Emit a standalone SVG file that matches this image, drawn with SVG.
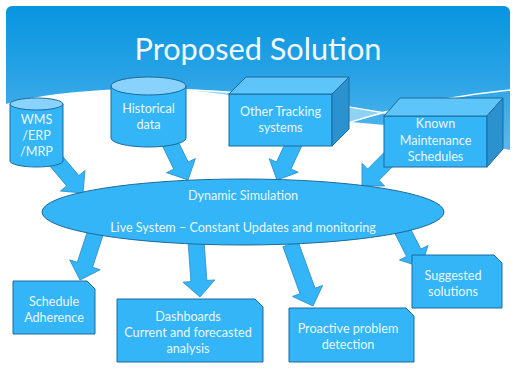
<svg xmlns="http://www.w3.org/2000/svg" width="516" height="377" viewBox="0 0 516 377">
<defs>
<linearGradient id="sky" x1="0" y1="0" x2="0" y2="1">
<stop offset="0" stop-color="#0795df"/>
<stop offset="0.45" stop-color="#2aa3e6"/>
<stop offset="1" stop-color="#62c0f2"/>
</linearGradient>
<style>
.n{fill:#33b5f8;stroke:#1d6a9a;stroke-width:1}
.cap{fill:#88d2fb;stroke:#1d6a9a;stroke-width:1}
.top{fill:#5ec5fb;stroke:#1d6a9a;stroke-width:1}
.side{fill:#2b92cf;stroke:#1d6a9a;stroke-width:1}
.t{font-family:Lato,"Open Sans","DejaVu Sans",sans-serif;font-size:12.6px;fill:#eaf7ff;text-anchor:middle}
.a{fill:#33b5f8;stroke:#2a8fcc;stroke-width:0.8}
</style>
</defs>
<rect x="0" y="0" width="516" height="377" fill="#ffffff"/>
<rect x="6" y="6" width="504" height="160" rx="6" fill="url(#sky)"/>
<path d="M170,89 C250,90 315,100 385,113 L351,122 C300,110 240,92 170,89 Z" fill="#8fd0f5"/>
<path d="M6,104 C50,92 110,88 170,89 C240,92 300,110 351,122 L385,125 L510,150 L510,377 L6,377 Z" fill="#ffffff"/>
<path d="M120,89 C220,87 310,100 385,113 L430,121" fill="none" stroke="#ffffff" stroke-width="1.5"/>
<path d="M330,128 C345,124 360,119 385,112 C420,103 460,95 510,90" fill="none" stroke="#ffffff" stroke-width="1.5"/>
<text x="258" y="60" font-family="Lato,'Open Sans',sans-serif" font-size="30" fill="#f2f9ff" text-anchor="middle" textLength="247" lengthAdjust="spacingAndGlyphs">Proposed Solution</text>

<g id="connectors">
<path class="a" transform="translate(83,193) rotate(50)" d="M0,0 L-16,-16 L-16,-8 L-55,-8 L-55,8 L-16,8 L-16,16 Z"/>
<path class="a" transform="translate(188,180) rotate(64)" d="M0,0 L-16,-16 L-16,-8 L-45,-8 L-45,8 L-16,8 L-16,16 Z"/>
<path class="a" transform="translate(277,180) rotate(115)" d="M0,0 L-16,-16 L-16,-8 L-42,-8 L-42,8 L-16,8 L-16,16 Z"/>
<path class="a" transform="translate(362,186) rotate(135)" d="M0,0 L-16,-16 L-16,-8 L-42,-8 L-42,8 L-16,8 L-16,16 Z"/>
<path class="a" transform="translate(80,280) rotate(108)" d="M0,0 L-16,-16 L-16,-8 L-52,-8 L-52,8 L-16,8 L-16,16 Z"/>
<path class="a" transform="translate(200,297) rotate(86)" d="M0,0 L-16,-16 L-16,-8 L-55,-8 L-55,8 L-16,8 L-16,16 Z"/>
<path class="a" transform="translate(313,306) rotate(70)" d="M0,0 L-16,-16 L-16,-8 L-66,-8 L-66,8 L-16,8 L-16,16 Z"/>
<path class="a" transform="translate(421,267) rotate(63)" d="M0,0 L-16,-16 L-16,-8 L-44,-8 L-44,8 L-16,8 L-16,16 Z"/>
</g>

<g id="wms">
<path class="n" d="M10,104 V161 A26.5,6 0 0 0 63,161 V104 Z"/>
<ellipse class="cap" cx="36.5" cy="104" rx="26.5" ry="6"/>
<text class="t" x="36.5" y="124">WMS</text>
<text class="t" x="36.5" y="140">/ERP</text>
<text class="t" x="36.5" y="156">/MRP</text>
</g>

<g id="historical">
<path class="n" d="M111,86 V138 A37.5,9 0 0 0 186,138 V86 Z"/>
<ellipse class="cap" cx="148.5" cy="86" rx="37.5" ry="9"/>
<text class="t" x="148.5" y="113">Historical</text>
<text class="t" x="148.5" y="129">data</text>
</g>

<g id="other">
<rect class="n" x="229" y="94" width="103" height="52"/>
<path class="top" d="M229,94 L246,77 L349,77 L332,94 Z"/>
<path class="side" d="M332,94 L349,77 L349,129 L332,146 Z"/>
<text class="t" x="280.5" y="116">Other Tracking</text>
<text class="t" x="280.5" y="132">systems</text>
</g>

<g id="known">
<rect class="n" x="384" y="116" width="103" height="51"/>
<path class="top" d="M384,116 L400,98 L503,98 L487,116 Z"/>
<path class="side" d="M487,116 L503,98 L503,149 L487,167 Z"/>
<text class="t" x="435.5" y="128">Known</text>
<text class="t" x="435.5" y="145">Maintenance</text>
<text class="t" x="435.5" y="161">Schedules</text>
</g>

<g id="simulation">
<ellipse class="n" cx="243" cy="212" rx="201" ry="33"/>
<text class="t" x="243" y="200">Dynamic Simulation</text>
<text class="t" x="243" y="232">Live System – Constant Updates and monitoring</text>
</g>

<g id="schedule">
<path class="n" d="M13,281 H87 L95,289 V334 H13 Z"/>
<text class="t" x="54" y="306">Schedule</text>
<text class="t" x="54" y="322">Adherence</text>
</g>

<g id="dashboards">
<path class="n" d="M117,299 H255 L263,307 V362 H117 Z"/>
<text class="t" x="188" y="321">Dashboards</text>
<text class="t" x="188" y="337">Current and forecasted</text>
<text class="t" x="188" y="353">analysis</text>
</g>

<g id="proactive">
<path class="n" d="M289,308 H406 L414,316 V362 H289 Z"/>
<text class="t" x="348" y="333">Proactive problem</text>
<text class="t" x="348" y="349">detection</text>
</g>

<g id="suggested">
<path class="n" d="M412,255 H494 L502,263 V308 H412 Z"/>
<text class="t" x="453" y="280">Suggested</text>
<text class="t" x="453" y="296">solutions</text>
</g>
</svg>
